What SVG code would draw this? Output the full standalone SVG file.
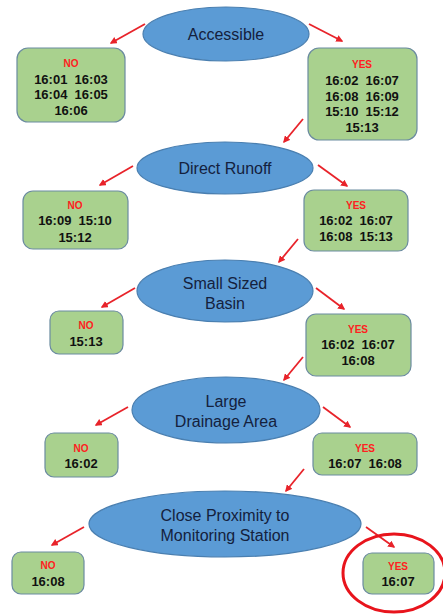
<svg xmlns="http://www.w3.org/2000/svg" width="443" height="614" viewBox="0 0 443 614">
<style>
.q{fill:#5b9bd5;stroke:#4a7fb0;stroke-width:1.2}
.qt{font-family:"Liberation Sans",Arial,sans-serif;font-size:16px;fill:#14213d;text-anchor:middle;dominant-baseline:central}
.b{fill:#a9d18e;stroke:#6b8ba0;stroke-width:1.2}
.l{font-family:"Liberation Sans",Arial,sans-serif;font-size:10px;font-weight:bold;fill:#ff2020;text-anchor:middle;dominant-baseline:central}
.v{font-family:"Liberation Sans",Arial,sans-serif;font-size:13px;font-weight:bold;fill:#111;text-anchor:middle;dominant-baseline:central;white-space:pre}
.c{stroke:#e8232a;stroke-width:1.8;fill:none;marker-end:url(#ah)}
</style>
<defs>
<marker id="ah" viewBox="0 0 10 10" refX="8" refY="5" markerWidth="4" markerHeight="4" orient="auto" markerUnits="strokeWidth">
<path d="M0,0 L10,5 L0,10 z" fill="#e8232a"/>
</marker>
</defs>
<rect width="443" height="614" fill="#fff"/>
<g id="connectors">
<line class="c" x1="145" y1="24" x2="111" y2="43"/>
<line class="c" x1="309" y1="24" x2="342" y2="41"/>
<line class="c" x1="303" y1="119" x2="284" y2="142"/>
<line class="c" x1="133" y1="166" x2="100" y2="185"/>
<line class="c" x1="318" y1="165" x2="347" y2="186"/>
<line class="c" x1="298" y1="239" x2="279" y2="262"/>
<line class="c" x1="135" y1="288" x2="102" y2="307"/>
<line class="c" x1="316" y1="288" x2="344" y2="309"/>
<line class="c" x1="303" y1="357" x2="284" y2="380"/>
<line class="c" x1="128" y1="407" x2="96" y2="425"/>
<line class="c" x1="323" y1="407" x2="350" y2="427"/>
<line class="c" x1="304" y1="469" x2="286" y2="491"/>
<line class="c" x1="84" y1="527" x2="52" y2="545"/>
<line class="c" x1="366" y1="527" x2="394" y2="547"/>
</g>
<g id="q1"><ellipse class="q" cx="226" cy="34" rx="83" ry="27"/><text class="qt" x="226" y="34">Accessible</text></g>
<g id="n1"><rect class="b" x="17" y="48" width="108" height="74" rx="11"/><text class="l" x="71" y="63">NO</text><text class="v" x="71" y="79">16:01  16:03</text><text class="v" x="71" y="94">16:04  16:05</text><text class="v" x="71" y="110">16:06</text></g>
<g id="y1"><rect class="b" x="308" y="48" width="109" height="92" rx="11"/><text class="l" x="362" y="64">YES</text><text class="v" x="362" y="80">16:02  16:07</text><text class="v" x="362" y="96">16:08  16:09</text><text class="v" x="362" y="111">15:10  15:12</text><text class="v" x="362" y="127">15:13</text></g>
<g id="q2"><ellipse class="q" cx="225" cy="168" rx="88" ry="26"/><text class="qt" x="225" y="168">Direct Runoff</text></g>
<g id="n2"><rect class="b" x="23" y="191" width="105" height="58" rx="10"/><text class="l" x="75" y="205">NO</text><text class="v" x="75" y="220">16:09  15:10</text><text class="v" x="75" y="237">15:12</text></g>
<g id="y2"><rect class="b" x="304" y="190" width="104" height="61" rx="10"/><text class="l" x="356" y="205">YES</text><text class="v" x="356" y="220">16:02  16:07</text><text class="v" x="356" y="236">16:08  15:13</text></g>
<g id="q3"><ellipse class="q" cx="225" cy="291" rx="88" ry="31"/><text class="qt" x="225" y="283">Small Sized</text><text class="qt" x="225" y="303">Basin</text></g>
<g id="n3"><rect class="b" x="50" y="311" width="73" height="43" rx="9"/><text class="l" x="86" y="325">NO</text><text class="v" x="86" y="341">15:13</text></g>
<g id="y3"><rect class="b" x="306" y="314" width="105" height="62" rx="10"/><text class="l" x="358" y="329">YES</text><text class="v" x="358" y="344">16:02  16:07</text><text class="v" x="358" y="360">16:08</text></g>
<g id="q4"><ellipse class="q" cx="226" cy="410" rx="94" ry="33"/><text class="qt" x="226" y="401">Large</text><text class="qt" x="226" y="421">Drainage Area</text></g>
<g id="n4"><rect class="b" x="45" y="433" width="73" height="44" rx="9"/><text class="l" x="81" y="448">NO</text><text class="v" x="81" y="463">16:02</text></g>
<g id="y4"><rect class="b" x="313" y="433" width="104" height="42" rx="9"/><text class="l" x="365" y="448">YES</text><text class="v" x="365" y="463">16:07  16:08</text></g>
<g id="q5"><ellipse class="q" cx="225" cy="524" rx="136" ry="33"/><text class="qt" x="225" y="515">Close Proximity to</text><text class="qt" x="225" y="535">Monitoring Station</text></g>
<g id="n5"><rect class="b" x="12" y="552" width="72" height="42" rx="9"/><text class="l" x="48" y="565">NO</text><text class="v" x="48" y="581">16:08</text></g>
<g id="y5"><rect class="b" x="363" y="553" width="71" height="41" rx="9"/><text class="l" x="398" y="566">YES</text><text class="v" x="398" y="581">16:07</text></g>
<ellipse id="highlight" cx="394" cy="573" rx="51" ry="39" fill="none" stroke="#e8141c" stroke-width="3"/>
</svg>
